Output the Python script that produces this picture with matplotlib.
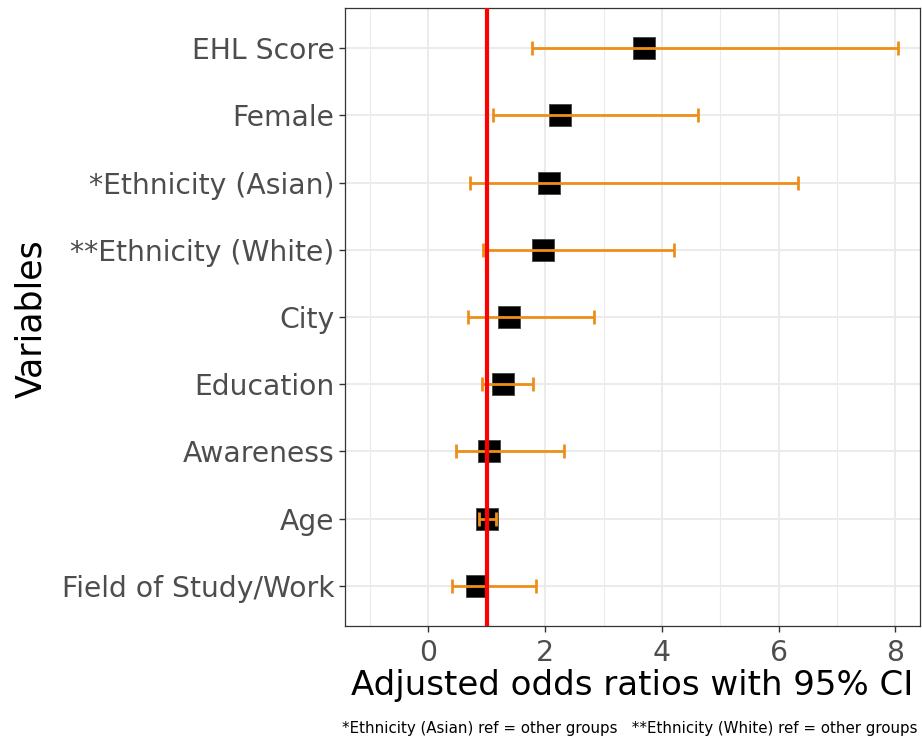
import matplotlib
matplotlib.use("Agg")
import matplotlib.pyplot as plt
from matplotlib.ticker import MultipleLocator

plt.rcParams['font.family'] = ['DejaVu Sans']

variables = ["EHL Score", "Female", "*Ethnicity (Asian)", "**Ethnicity (White)",
             "City", "Education", "Awareness", "Age", "Field of Study/Work"]
odds_ratio = [3.70, 2.25, 2.07, 1.96, 1.38, 1.27, 1.04, 1.00, 0.83]
ci_low = [1.77, 1.11, 0.71, 0.94, 0.68, 0.92, 0.47, 0.87, 0.40]
ci_high = [8.04, 4.61, 6.33, 4.20, 2.83, 1.79, 2.33, 1.15, 1.84]
x_ticks = [0, 2, 4, 6, 8]

fig = plt.figure(figsize=(9.22, 7.40), dpi=100)
ax = fig.add_axes([345/922, 1-626/740, (920-345)/922, (626-8)/740])

n = len(variables)
ypos = [n - i for i in range(n)]

ax.set_xlim(-1.43, 8.42)
ax.set_ylim(0.4, n + 0.6)

# grid
ax.set_xticks(x_ticks)
ax.xaxis.set_minor_locator(MultipleLocator(1))
ax.set_yticks(ypos)
ax.set_yticklabels(variables)
ax.grid(which='major', color='#EBEBEB', linewidth=1.4, zorder=0)
ax.grid(which='minor', axis='x', color='#EBEBEB', linewidth=0.8, zorder=0)
ax.set_axisbelow(True)
ax.tick_params(which='minor', length=0)

# points
ax.scatter(odds_ratio, ypos, marker='s', s=250, color='black',
           edgecolors='#444444', linewidths=0.6, zorder=3)
# error bars
err_lo = [o - l for o, l in zip(odds_ratio, ci_low)]
err_hi = [h - o for o, h in zip(odds_ratio, ci_high)]
ax.errorbar(odds_ratio, ypos, xerr=[err_lo, err_hi], fmt='none',
            ecolor='#EE8E1A', elinewidth=2.0, capsize=5, capthick=2.0, zorder=4)
# reference line
ax.axvline(1, color='#FF0000', linewidth=3.0, zorder=5)

for sp in ax.spines.values():
    sp.set_color('#333333')
    sp.set_linewidth(0.9)

ax.tick_params(axis='both', which='major', length=4.5, width=1.0, color='#333333',
               labelcolor='#4D4D4D', labelsize=20.3)
ax.tick_params(axis='y', pad=3)
ax.tick_params(axis='x', pad=5)

ax.set_xlabel("Adjusted odds ratios with 95% CI", fontsize=24.5, color='black', labelpad=1)

fig.text(31/922, 1-319/740, "Variables", rotation=90, ha='center', va='center',
         fontsize=25, color='black')

fig.text(917/922, 1-728/740,
         "*Ethnicity (Asian) ref = other groups   **Ethnicity (White) ref = other groups",
         ha='right', va='center', fontsize=10.8, color='black')

fig.savefig("out.png", dpi=100)
